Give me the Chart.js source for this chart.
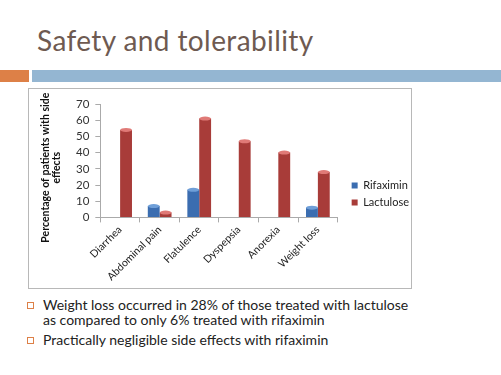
<!DOCTYPE html>
<html>
<head>
<meta charset="utf-8">
<script src="https://cdn.jsdelivr.net/npm/chart.js@4"></script>
<style>
  body { margin: 0; width: 501px; height: 375px; background: #fff; position: relative; overflow: hidden; font-family: Lato, "Open Sans", sans-serif; }
  #title { position: absolute; left: 37px; top: 23px; font-size: 28px; color: #6e5a51; letter-spacing: 0.4px; }
  #bar-orange { position: absolute; left: 0; top: 70px; width: 29px; height: 12px; background: #dd8047; }
  #bar-blue { position: absolute; left: 32px; top: 70px; width: 469px; height: 12px; background: #94b6d2; }
  #box { position: absolute; left: 28px; top: 88px; width: 382px; height: 199px; border: 1px solid #b8b8b8; }
  #bullets { position: absolute; left: 26px; top: 297px; width: 470px; font-size: 14px; color: #222; }
  .item { position: relative; padding-left: 17px; line-height: 15px; margin-bottom: 5px; }
  .item::before { content: ""; position: absolute; left: 1px; top: 5px; width: 5px; height: 5px; border: 1px solid #dd8047; }
</style>
</head>
<body>
<div id="title">Safety and tolerability</div>
<div id="bar-orange"></div>
<div id="bar-blue"></div>
<div id="box"><canvas id="side-chart" width="382" height="199"></canvas></div>
<div id="bullets">
  <div class="item">Weight loss occurred in 28% of those treated with lactulose<br>as compared to only 6% treated with rifaximin</div>
  <div class="item">Practically negligible side effects with rifaximin</div>
</div>
<script>
const categories = ['Diarrhea', 'Abdominal pain', 'Flatulence', 'Dyspepsia', 'Anorexia', 'Weight loss'];
const rifaximin = [0, 7, 17, 0, 0, 6];
const lactulose = [54, 3, 61, 47, 40, 28];
const yTicks = [0, 10, 20, 30, 40, 50, 60, 70];
const yTitle = ['Percentage of patients with side', 'effects'];

// horizontal gradient so the bars look a bit like cylinders
function cylinder(dark, light) {
    return function(context) {
        const bar = context.element;
        if (!bar || bar.width === undefined || !isFinite(bar.x)) return dark;
        const c = context.chart.ctx;
        const g = c.createLinearGradient(bar.x - bar.width / 2, 0, bar.x + bar.width / 2, 0);
        g.addColorStop(0, dark);
        g.addColorStop(0.35, light);
        g.addColorStop(1, dark);
        return g;
    };
}

// small elliptical caps on top of each bar
const capPlugin = {
    id: 'caps',
    afterDatasetsDraw(chart) {
        const c = chart.ctx;
        const caps = ['#6f9fd8', '#e07a77'];
        chart.data.datasets.forEach((ds, i) => {
            chart.getDatasetMeta(i).data.forEach((bar, j) => {
                if (!ds.data[j]) return;
                c.save();
                c.fillStyle = caps[i];
                c.beginPath();
                c.ellipse(bar.x, bar.y, bar.width / 2, 2, 0, 0, Math.PI * 2);
                c.fill();
                c.restore();
            });
        });
    }
};

// y title drawn by hand so it can sit a little below the middle, like the original
const yTitlePlugin = {
    id: 'yTitle',
    afterDraw(chart) {
        const c = chart.ctx;
        const area = chart.chartArea;
        const x = chart.scales.y.left;
        c.save();
        c.font = 'bold 10.5px Lato';
        c.fillStyle = '#111';
        c.textAlign = 'center';
        c.textBaseline = 'middle';
        yTitle.forEach((line, i) => {
            c.save();
            c.translate(x - 24 + i * 11, (area.top + area.bottom) / 2 + 7);
            c.rotate(-Math.PI / 2);
            c.fillText(line, 0, 0);
            c.restore();
        });
        c.restore();
    }
};

// nudge the legend a few pixels right of where chart.js puts it
const legendShift = {
    id: 'legendShift',
    afterLayout(chart) {
        chart.legend.left += 8;
        chart.legend.right += 8;
    }
};

const ctx = document.getElementById('side-chart').getContext('2d');
new Chart(ctx, {
    type: 'bar',
    data: {
        labels: categories,
        datasets: [{
            label: 'Rifaximin',
            data: rifaximin,
            backgroundColor: cylinder('#3b6db0', '#7aa7e0'),
            categoryPercentage: 0.6,
            barPercentage: 1
        }, {
            label: 'Lactulose',
            data: lactulose,
            backgroundColor: cylinder('#a83c39', '#d96a66'),
            categoryPercentage: 0.6,
            barPercentage: 1
        }]
    },
    options: {
        responsive: false,
        animation: false,
        layout: { padding: { top: 15, right: 0, bottom: 4, left: 41 } },
        scales: {
            y: {
                min: 0,
                max: 70,
                afterBuildTicks: axis => { axis.ticks = yTicks.map(v => ({ value: v })); },
                ticks: { color: '#333', font: { family: 'Lato', size: 11.5 }, padding: 6, autoSkip: false },
                grid: { drawOnChartArea: false, tickLength: 5, color: '#aaa' },
                border: { color: '#aaa' }
            },
            x: {
                ticks: { color: '#222', font: { family: 'Lato', size: 10.5 }, minRotation: 45, maxRotation: 45, padding: 1, autoSkip: false },
                grid: { drawOnChartArea: false, tickLength: 5, color: '#aaa' },
                border: { color: '#aaa' }
            }
        },
        plugins: {
            legend: {
                position: 'right',
                labels: { boxWidth: 6, boxHeight: 6, color: '#222', font: { family: 'Lato', size: 11 }, padding: 6 }
            },
            tooltip: { enabled: false }
        }
    },
    plugins: [capPlugin, yTitlePlugin, legendShift]
});
</script>
</body>
</html>
